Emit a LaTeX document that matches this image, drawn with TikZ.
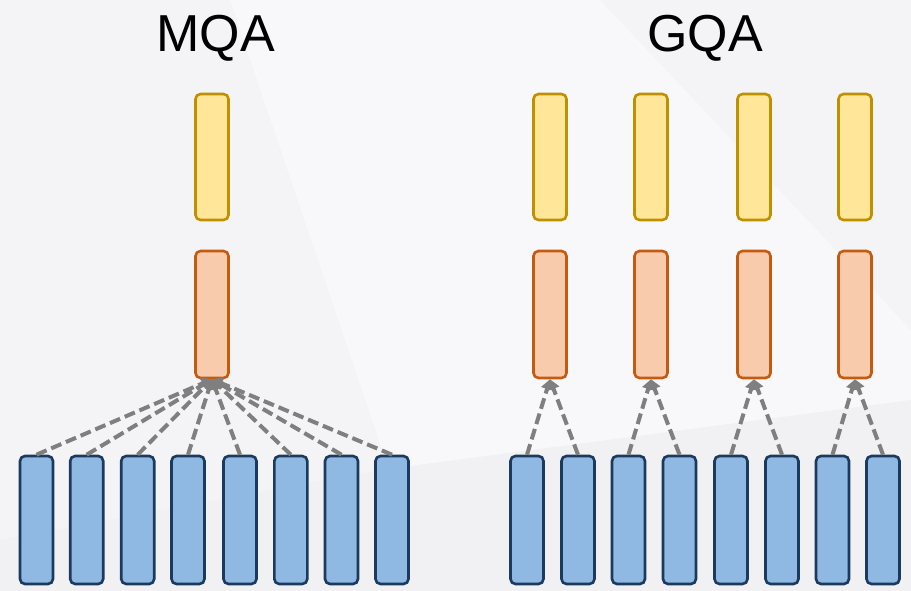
\documentclass[tikz,border=0pt]{standalone}
\usepackage{fontspec}
\setmainfont{Liberation Sans}
\usetikzlibrary{arrows.meta}
\definecolor{bgcol}{HTML}{F4F4F6}
\definecolor{bglite}{HTML}{F8F8FA}
\definecolor{bgdark}{HTML}{F1F1F3}
\definecolor{qfill}{HTML}{FFE699}
\definecolor{qline}{HTML}{BF9000}
\definecolor{kfill}{HTML}{F8CBAD}
\definecolor{kline}{HTML}{C55A11}
\definecolor{vfill}{HTML}{8FB8E2}
\definecolor{vline}{HTML}{1C3A5E}
\definecolor{linkcol}{HTML}{7F7F7F}
\tikzset{
  bar/.style={rectangle, rounded corners=5pt, inner sep=0pt, line width=2.6pt,
    minimum width=33pt},
  qbar/.style={bar, draw=qline, fill=qfill, minimum height=126pt},
  kbar/.style={bar, draw=kline, fill=kfill, minimum height=127pt},
  vbar/.style={bar, draw=vline, fill=vfill, minimum height=128pt},
  link/.style={draw=linkcol, line width=4pt, dash pattern=on 11pt off 5pt,
    -{Triangle[length=10pt,width=12pt]}},
  title/.style={font=\fontsize{52}{60}\selectfont, anchor=base, inner sep=0pt}
}
\begin{document}
\begin{tikzpicture}[x=1pt,y=-1pt]
  % backdrop
  \fill[bgcol] (0,0) rectangle (911,591);
  \fill[bglite] (230,0) -- (600,0) -- (911,330) -- (911,470) -- (560,591) -- (430,591) -- cycle;
  \fill[bgdark] (0,540) -- (380,470) -- (911,400) -- (911,591) -- (0,591) -- cycle;
  \useasboundingbox (0,0) rectangle (911,591);

  % titles
  \node[title] (tmqa) at (215.5,52) {MQA};
  \node[title] (tgqa) at (705,52) {GQA};

  % MQA: one query/key head shared by all value heads
  \node[qbar] (mq) at (212,157) {};
  \node[kbar] (mk) at (212,314.5) {};
  \foreach \i/\x in {1/36.5,2/86.7,3/137.7,4/188,5/240,6/290.8,7/341.5,8/392}{
    \node[vbar] (mv\i) at (\x,520) {};
    \draw[link] (mv\i.north) -- (mk.south);
  }

  % GQA: one query/key head per pair of value heads
  \foreach \g/\x in {1/550,2/651,3/754,4/855}{
    \node[qbar] (gq\g) at (\x,157) {};
    \node[kbar] (gk\g) at (\x,314.5) {};
  }
  \foreach \i/\x in {1/527,2/578,3/628.5,4/679.5,5/731,6/782,7/832.5,8/883}{
    \node[vbar] (gv\i) at (\x,520) {};
  }
  \foreach \g/\a/\b in {1/1/2,2/3/4,3/5/6,4/7/8}{
    \draw[link] (gv\a.north) -- (gk\g.south);
    \draw[link] (gv\b.north) -- (gk\g.south);
  }
\end{tikzpicture}
\end{document}
